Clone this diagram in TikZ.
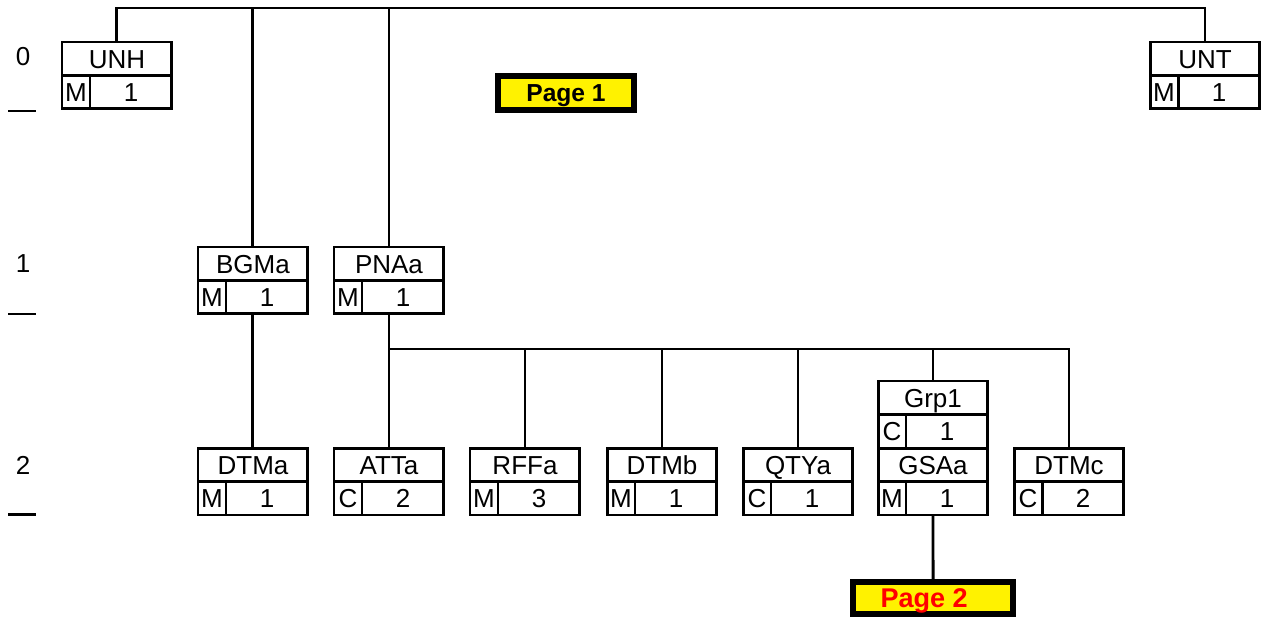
\documentclass[tikz,border=0pt]{standalone}
\usepackage{fontspec}
\setmainfont{Liberation Sans}
\usetikzlibrary{positioning}

% one segment box: id, centre x, top y, tag, status, repeat
\newcommand{\segm}[6]{%
  \node[seghead, anchor=north west] (#1) at (#2-55,#3) {#4};
  \node[segstat, anchor=north west] (#1-s) at (#1.south west) {#5};
  \node[segrep, anchor=north west] (#1-r) at (#1-s.north east) {#6};
  \coordinate (#1-b) at (#1.south |- #1-s.south);
}

\begin{document}
\begin{tikzpicture}[
    x=0.02cm, y=-0.02cm,
    cell/.style={draw, line width=1.7pt, inner sep=0pt, outer sep=0pt, minimum height=0.67cm, text height=10.6pt, text depth=0pt, font=\fontsize{14.8}{17}\selectfont},
    seghead/.style={cell, minimum width=2.2cm},
    segstat/.style={cell, minimum width=0.56cm},
    segrep/.style={cell, minimum width=1.64cm},
    level/.style={inner sep=0pt, text height=10.6pt, text depth=0pt, font=\fontsize{14.8}{17}\selectfont},
    pagebox/.style={draw, line width=3.6pt, fill=yellow, inner sep=0pt, text depth=0pt, font=\bfseries},
    link/.style={line width=1.7pt}
  ]
    \useasboundingbox (0,0) rectangle (1261,619);

    % level marks
    \foreach \lvl/\y/\d in {0/56/111,1/263/314,2/465/514} {
      \node[level] (lvl\lvl) at (23,\y) {\lvl};
      \draw[link] (8,\d) -- (36,\d);
    }

    \segm{UNH}{117}{42}{UNH}{M}{1}
    \segm{UNT}{1205}{42}{UNT}{M}{1}
    \segm{BGMa}{253}{247}{BGMa}{M}{1}
    \segm{PNAa}{389}{247}{PNAa}{M}{1}
    \segm{DTMa}{253}{448}{DTMa}{M}{1}
    \segm{ATTa}{389}{448}{ATTa}{C}{2}
    \segm{RFFa}{525}{448}{RFFa}{M}{3}
    \segm{DTMb}{662}{448}{DTMb}{M}{1}
    \segm{QTYa}{798}{448}{QTYa}{C}{1}
    \segm{Grp1}{933}{381}{Grp1}{C}{1}
    \segm{GSAa}{933}{448}{GSAa}{M}{1}
    \segm{DTMc}{1069}{448}{DTMc}{C}{2}

    \node[pagebox, minimum width=2.72cm, minimum height=0.68cm, text height=10pt,
          font=\fontsize{14}{16}\selectfont\bfseries] (page1) at (566,93) {Page 1};
    \node[pagebox, minimum width=3.2cm, minimum height=0.64cm, text height=11pt, text=red,
          font=\fontsize{15.4}{17}\selectfont\bfseries] (page2) at (933,598)
          {\makebox[2.9cm][l]{\hspace{0.4cm}Page 2}};

    \coordinate (topbar) at (0,8);
    \coordinate (pnabar) at (0,349);

    \draw[link] (UNH.north) |- (UNT.north |- topbar) -- (UNT.north);
    \foreach \s in {BGMa,PNAa}
      \draw[link] (\s.north) -- (\s.north |- topbar);
    \draw[link] (BGMa-b) -- (DTMa.north);
    \draw[link] (PNAa-b) |- (DTMc.north |- pnabar) -- (DTMc.north);
    \foreach \s in {ATTa,RFFa,DTMb,QTYa,Grp1}
      \draw[link] (\s.north) -- (\s.north |- pnabar);
    \draw[link] (GSAa-b) -- (page2);
  \end{tikzpicture}
\end{document}
